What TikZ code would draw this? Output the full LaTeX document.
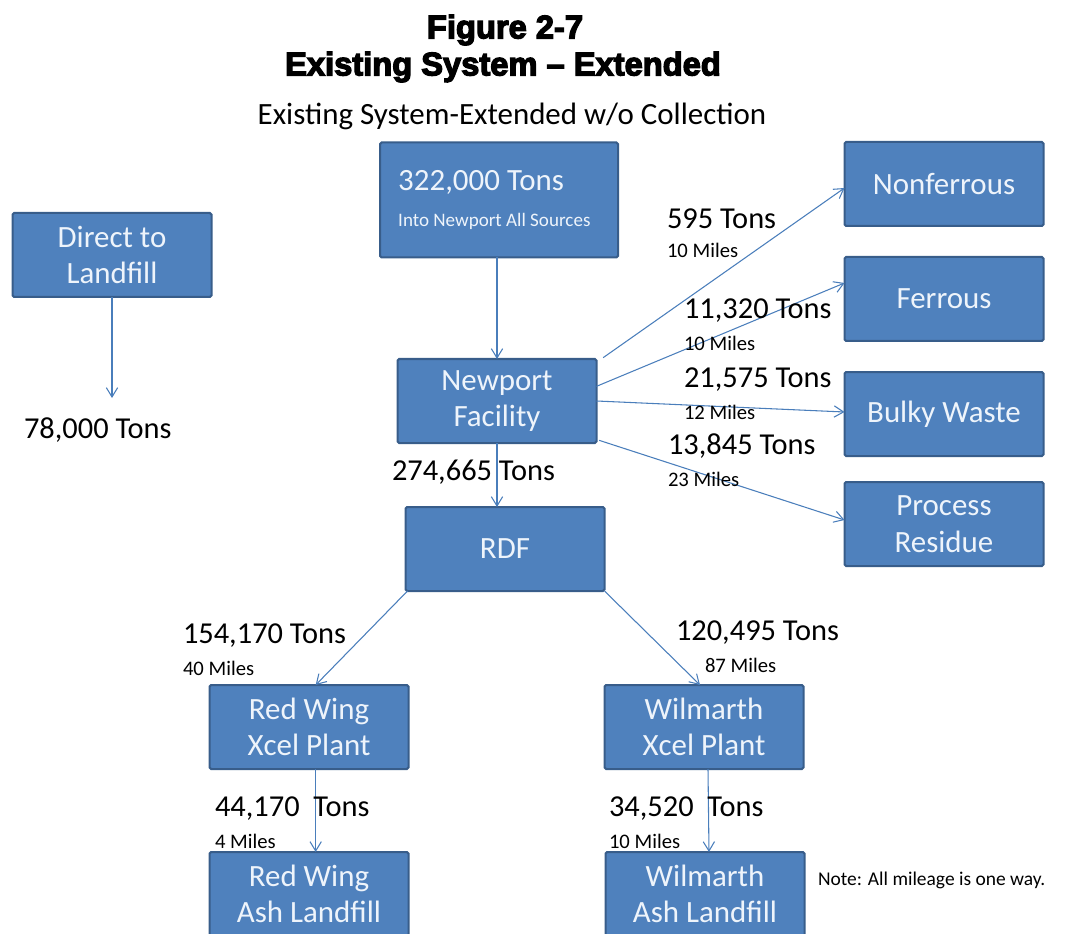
\documentclass[tikz,border=0pt]{standalone}
\usepackage{fontspec}
\setmainfont{Carlito}
\newfontfamily\titlefont{Liberation Sans}[BoldFeatures={FakeBold=4}]
\usetikzlibrary{arrows.meta}
\definecolor{boxfill}{RGB}{79,129,189}
\definecolor{boxline}{RGB}{56,93,138}
\definecolor{boxtext}{RGB}{238,244,251}
\definecolor{flowline}{RGB}{74,126,187}

\begin{document}
\begin{tikzpicture}[y=0.75pt, x=0.75pt, yscale=-1, inner sep=0pt, outer sep=0pt,
  unit/.style={draw=boxline, fill=boxfill, line width=1.5pt, rounded corners=1.2pt, text=boxtext, align=center, minimum width=149.25pt, minimum height=63pt, font=\fontsize{23.2}{27.5}\selectfont},
  flow/.style={draw=flowline, line width=0.8pt, -{Straight Barb[length=7pt,width=8.5pt]}},
  tons/.style={anchor=west, font=\fontsize{22.8}{27}\selectfont},
  miles/.style={anchor=west, font=\fontsize{15.5}{18}\selectfont}]
\useasboundingbox (0,0) rectangle (1089,934);
% headings
\node[font=\titlefont\bfseries\fontsize{24.5}{28}\selectfont] (fig) at (505,30) {Figure 2-7};
\node[font=\titlefont\bfseries\fontsize{24.5}{28}\selectfont] (heading) at (503,67) {Existing System – Extended};
\node[font=\fontsize{23.2}{27}\selectfont] (subhead) at (512,116) {Existing System-Extended w/o Collection};

% boxes
\node[unit, minimum width=178.5pt, minimum height=86.25pt, align=left] (intake) at (499,200) {\hspace*{-7pt}322,000 Tons\\[-1pt]\hspace*{-7pt}{\fontsize{14.3}{17}\selectfont Into Newport All Sources}};
\node[unit] (direct) at (112,255) {Direct to\\Landfill};
\node[unit] (newport) at (497,401) {Newport\\Facility};
\node[unit] (rdf) at (505,549) {RDF};
\node[unit] (nonferrous) at (944,184) {Nonferrous};
\node[unit] (ferrous) at (944,299) {Ferrous};
\node[unit] (bulky) at (944,414) {Bulky Waste};
\node[unit] (residue) at (944,524) {Process\\Residue};
\node[unit] (redwing) at (309,727) {Red Wing\\Xcel Plant};
\node[unit] (wilmarth) at (704,727) {Wilmarth\\Xcel Plant};
\node[unit] (redash) at (309,894) {Red Wing\\Ash Landfill};
\node[unit] (wilash) at (705,894) {Wilmarth\\Ash Landfill};
\coordinate (landfillend) at (112,398);

% flows
\draw[flow] (intake.south -| newport.north) -- (newport.north);
\draw[flow] (direct.south) -- (landfillend);
\draw[flow] ([xshift=5pt,yshift=-1pt]newport.north east) -- ([yshift=3pt]nonferrous.west);
\draw[flow] ([yshift=-11pt]newport.east) -- ([yshift=-12pt]ferrous.west);
\draw[flow] (newport.east) -- ([yshift=-1.5pt]bulky.west);
\draw[flow] ([xshift=2pt,yshift=-2pt]newport.south east) -- ([yshift=-3pt]residue.west);
\draw[flow] (newport.south) -- (newport.south |- rdf.north);
\draw[flow] ([xshift=1.5pt]rdf.south west) -- ([xshift=5pt]redwing.north);
\draw[flow] (rdf.south east) -- ([xshift=-3pt]wilmarth.north);
\draw[flow] ([xshift=5pt]redwing.south) -- ([xshift=5pt]redash.north);
\draw[flow] ([xshift=3pt]wilmarth.south) -- ([xshift=3pt]wilash.north);

% quantities
\node[tons] (q595) at (667,219) {595 Tons};
\node[miles] (d595) at (667,250) {10 Miles};
\node[tons] (q11320) at (684,311) {11,320 Tons};
\node[miles] (d11320) at (684,343) {10 Miles};
\node[tons] (q21575) at (684,380) {21,575 Tons};
\node[miles] (d21575) at (684,412) {12 Miles};
\node[tons] (q13845) at (668,446) {13,845 Tons};
\node[miles] (d13845) at (668,479) {23 Miles};
\node[tons] (q274665) at (392,472) {274,665 Tons};
\node[tons] (q154170) at (183,636) {154,170 Tons};
\node[miles] (d154170) at (183,668) {40 Miles};
\node[tons] (q120495) at (676,633) {120,495 Tons};
\node[miles] (d120495) at (705,665) {87 Miles};
\node[tons] (q44170) at (215,809) {44,170~ Tons};
\node[miles] (d44170) at (215,841) {4 Miles};
\node[tons] (q34520) at (609,809) {34,520~ Tons};
\node[miles] (d34520) at (609,841) {10 Miles};
\node[tons] (q78000) at (24,430) {78,000 Tons};
\node[anchor=west, font=\fontsize{14.6}{17}\selectfont] (note) at (818,880) {Note: All mileage is one way.};
\end{tikzpicture}
\end{document}
